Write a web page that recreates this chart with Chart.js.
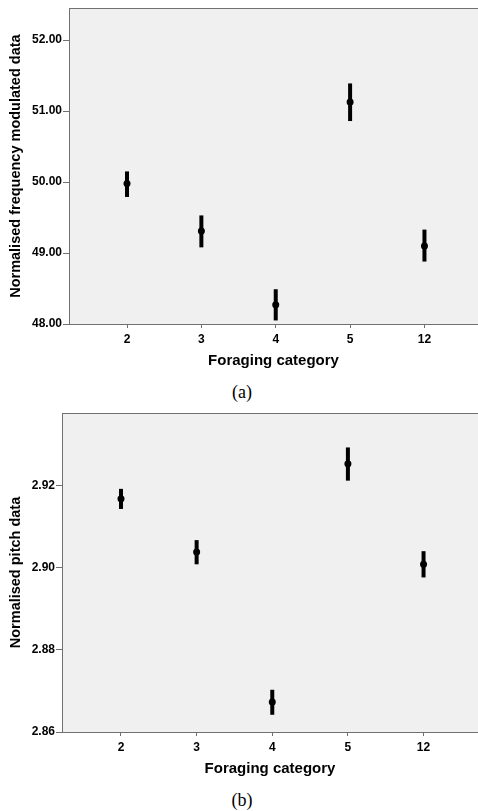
<!DOCTYPE html>
<html>
<head>
<meta charset="utf-8">
<script src="https://cdn.jsdelivr.net/npm/chart.js@4/dist/chart.umd.min.js"></script>
<style>
  body { margin: 0; background: #fff; width: 478px; height: 811px; overflow: hidden; position: relative; }
  .panel { position: absolute; left: 0; }
  .cap { position: absolute; left: 0; width: 484px; text-align: center;
         font-family: "Liberation Serif", "Times New Roman", serif; font-size: 18px; line-height: 20px; color: #000; }
</style>
</head>
<body>
<div class="panel" style="top:0"><canvas id="chartA" width="478" height="372"></canvas></div>
<div class="cap" style="top:382px">(a)</div>
<div class="panel" style="top:400px"><canvas id="chartB" width="478" height="380"></canvas></div>
<div class="cap" style="top:790px">(b)</div>
<script>
// categories on the x axis
const categories = ['2', '3', '4', '5', '12'];

// panel (a) - frequency modulated data: mean and error bar ends
const fmMean = [49.98, 49.31, 48.27, 51.13, 49.10];
const fmLow  = [49.79, 49.08, 48.05, 50.86, 48.88];
const fmHigh = [50.15, 49.53, 48.49, 51.39, 49.33];
const fmTicks = [48, 49, 50, 51, 52];

// panel (b) - pitch data
const pitchMean = [2.9169, 2.9039, 2.8673, 2.9254, 2.9009];
const pitchLow  = [2.9144, 2.9009, 2.8642, 2.9213, 2.8977];
const pitchHigh = [2.9193, 2.9068, 2.8703, 2.9294, 2.9041];
const pitchTicks = [2.86, 2.88, 2.90, 2.92];

const FONT = '"Liberation Sans", Arial, sans-serif';
const AXIS_GREY = '#707070';

// grey plot background + top frame line
const plotFrame = {
    id: 'plotFrame',
    beforeDraw(chart) {
        const a = chart.chartArea, ctx = chart.ctx;
        ctx.save();
        ctx.fillStyle = '#f0f0f0';
        ctx.fillRect(a.left, a.top, a.right - a.left, a.bottom - a.top);
        ctx.strokeStyle = AXIS_GREY;
        ctx.lineWidth = 1;
        ctx.beginPath();
        ctx.moveTo(a.left, Math.round(a.top) + 0.5);
        ctx.lineTo(a.right, Math.round(a.top) + 0.5);
        ctx.stroke();
        ctx.restore();
    }
};

// vertical error bars taken from the low/high arrays
const errorBars = {
    id: 'errorBars',
    beforeDatasetsDraw(chart, args, opts) {
        const x = chart.scales.x, y = chart.scales.y, ctx = chart.ctx;
        ctx.save();
        ctx.strokeStyle = '#000';
        ctx.lineWidth = 4;
        ctx.lineCap = 'butt';
        opts.low.forEach((lo, i) => {
            const px = x.getPixelForValue(i);
            ctx.beginPath();
            ctx.moveTo(px, y.getPixelForValue(lo));
            ctx.lineTo(px, y.getPixelForValue(opts.high[i]));
            ctx.stroke();
        });
        ctx.restore();
    }
};

function makeChart(id, mean, low, high, yTicks, yMin, yMax, yTitle, padTop, yWidth) {
    const points = mean.map((v, i) => ({ x: i, y: v }));
    return new Chart(document.getElementById(id).getContext('2d'), {
        type: 'scatter',
        data: {
            datasets: [{
                data: points,
                pointRadius: 3.5,
                pointBackgroundColor: '#000',
                pointBorderWidth: 0
            }]
        },
        plugins: [plotFrame, errorBars],
        options: {
            responsive: false,
            animation: false,
            layout: { autoPadding: false, padding: { top: padTop, left: 0, right: 0, bottom: 0 } },
            plugins: {
                legend: { display: false },
                tooltip: { enabled: false },
                errorBars: { low: low, high: high }
            },
            scales: {
                x: {
                    type: 'linear',
                    min: -0.78,
                    max: 4.72,
                    afterBuildTicks: s => { s.ticks = categories.map((c, i) => ({ value: i })); },
                    afterFit: s => { s.height = 48; },
                    grid: { drawOnChartArea: false, tickLength: 4, color: AXIS_GREY },
                    border: { color: AXIS_GREY, width: 1 },
                    ticks: {
                        padding: 4,
                        color: '#000',
                        font: { family: FONT, size: 12, weight: 'bold' },
                        callback: v => categories[v]
                    },
                    title: {
                        display: true,
                        text: 'Foraging category',
                        color: '#000',
                        font: { family: FONT, size: 15, weight: 'bold' },
                        padding: { top: 0, bottom: 2 }
                    }
                },
                y: {
                    min: yMin,
                    max: yMax,
                    afterBuildTicks: s => { s.ticks = yTicks.map(v => ({ value: v })); },
                    afterFit: s => { s.width = yWidth; },
                    grid: { drawOnChartArea: false, tickLength: 6, color: AXIS_GREY },
                    border: { color: AXIS_GREY, width: 1 },
                    ticks: {
                        padding: 1,
                        color: '#000',
                        font: { family: FONT, size: 12, weight: 'bold' },
                        callback: v => Number(v).toFixed(2)
                    },
                    title: {
                        display: true,
                        text: yTitle,
                        color: '#000',
                        font: { family: FONT, size: 14.5, weight: 'bold' },
                        padding: { top: 7.5, bottom: 0 }
                    }
                }
            }
        }
    });
}

makeChart('chartA', fmMean, fmLow, fmHigh, fmTicks, 48, 52.45,
    'Normalised frequency modulated data', 6, 69);
makeChart('chartB', pitchMean, pitchLow, pitchHigh, pitchTicks, 2.86, 2.9378,
    'Normalised pitch data', 13, 62);
</script>
</body>
</html>
